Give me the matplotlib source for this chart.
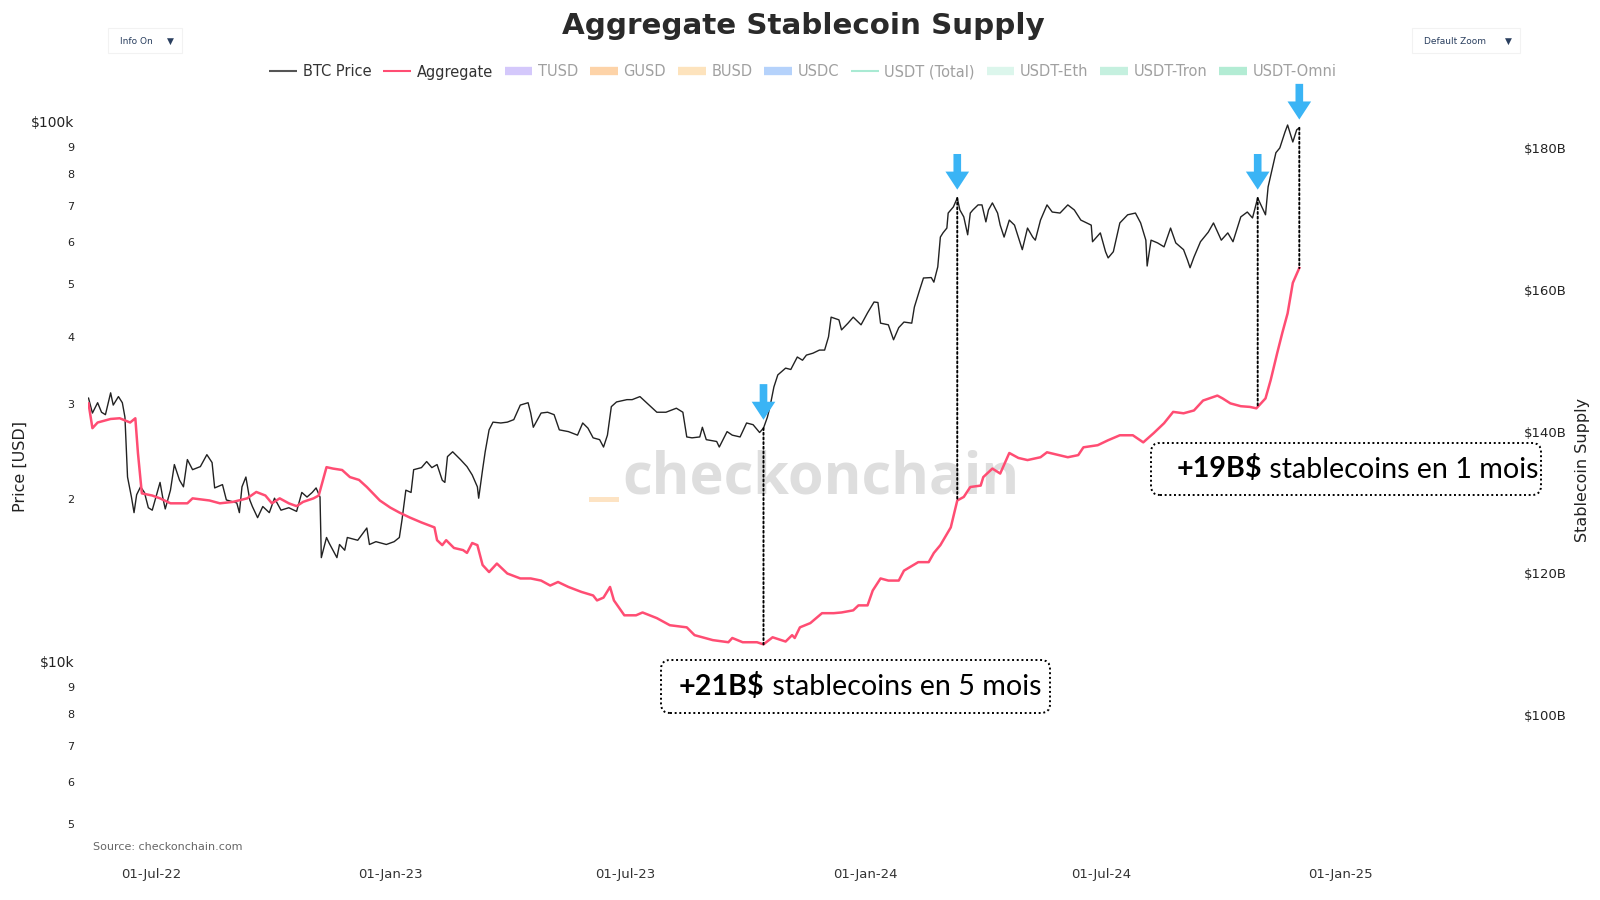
import numpy as np
import pandas as pd
import matplotlib
matplotlib.use('Agg')
import matplotlib.pyplot as plt
import matplotlib.dates as mdates
import matplotlib.transforms as mtransforms
from matplotlib.ticker import FixedLocator, FuncFormatter
from matplotlib.patches import FancyBboxPatch, ConnectionPatch, Rectangle
from matplotlib.lines import Line2D

# BTC price (USD)
btc_dates = [
    '2022-05-14', '2022-05-17', '2022-05-21', '2022-05-24', '2022-05-27', '2022-05-31', '2022-06-02', '2022-06-06',
    '2022-06-09', '2022-06-11', '2022-06-13', '2022-06-16', '2022-06-18', '2022-06-20', '2022-06-23', '2022-06-26',
    '2022-06-29', '2022-07-02', '2022-07-08', '2022-07-10', '2022-07-12', '2022-07-16', '2022-07-19', '2022-07-23',
    '2022-07-26', '2022-07-29', '2022-08-02', '2022-08-08', '2022-08-13', '2022-08-17', '2022-08-19', '2022-08-25',
    '2022-08-28', '2022-09-05', '2022-09-07', '2022-09-09', '2022-09-12', '2022-09-15', '2022-09-17', '2022-09-21',
    '2022-09-25', '2022-09-30', '2022-10-04', '2022-10-09', '2022-10-15', '2022-10-21', '2022-10-25', '2022-10-29',
    '2022-11-02', '2022-11-05', '2022-11-08', '2022-11-09', '2022-11-13', '2022-11-15', '2022-11-21', '2022-11-23',
    '2022-11-27', '2022-11-29', '2022-12-07', '2022-12-14', '2022-12-16', '2022-12-21', '2022-12-29', '2023-01-04',
    '2023-01-08', '2023-01-10', '2023-01-13', '2023-01-17', '2023-01-19', '2023-01-25', '2023-01-29', '2023-02-02',
    '2023-02-06', '2023-02-10', '2023-02-12', '2023-02-14', '2023-02-18', '2023-02-24', '2023-03-01', '2023-03-05',
    '2023-03-09', '2023-03-10', '2023-03-13', '2023-03-15', '2023-03-18', '2023-03-21', '2023-03-27', '2023-04-01',
    '2023-04-06', '2023-04-11', '2023-04-17', '2023-04-19', '2023-04-21', '2023-04-27', '2023-05-02', '2023-05-07',
    '2023-05-11', '2023-05-18', '2023-05-25', '2023-05-29', '2023-06-02', '2023-06-06', '2023-06-11', '2023-06-14',
    '2023-06-17', '2023-06-20', '2023-06-24', '2023-07-02', '2023-07-06', '2023-07-12', '2023-07-19', '2023-07-25',
    '2023-08-01', '2023-08-09', '2023-08-14', '2023-08-17', '2023-08-21', '2023-08-27', '2023-08-29', '2023-09-01',
    '2023-09-09', '2023-09-11', '2023-09-17', '2023-09-21', '2023-09-27', '2023-10-02', '2023-10-07', '2023-10-12',
    '2023-10-15', '2023-10-18', '2023-10-20', '2023-10-23', '2023-10-26', '2023-11-01', '2023-11-05', '2023-11-10',
    '2023-11-14', '2023-11-17', '2023-11-22', '2023-11-27', '2023-12-01', '2023-12-04', '2023-12-06', '2023-12-12',
    '2023-12-14', '2023-12-19', '2023-12-23', '2023-12-29', '2024-01-03', '2024-01-08', '2024-01-11', '2024-01-13',
    '2024-01-19', '2024-01-23', '2024-01-27', '2024-01-31', '2024-02-06', '2024-02-08', '2024-02-12', '2024-02-15',
    '2024-02-21', '2024-02-23', '2024-02-26', '2024-02-28', '2024-03-01', '2024-03-04', '2024-03-05', '2024-03-09',
    '2024-03-12', '2024-03-14', '2024-03-17', '2024-03-20', '2024-03-22', '2024-03-24', '2024-03-28', '2024-03-31',
    '2024-04-03', '2024-04-05', '2024-04-08', '2024-04-12', '2024-04-14', '2024-04-17', '2024-04-21', '2024-04-25',
    '2024-05-01', '2024-05-05', '2024-05-09', '2024-05-11', '2024-05-15', '2024-05-20', '2024-05-24', '2024-05-30',
    '2024-06-05', '2024-06-10', '2024-06-15', '2024-06-23', '2024-06-24', '2024-06-30', '2024-07-04', '2024-07-06',
    '2024-07-10', '2024-07-15', '2024-07-21', '2024-07-27', '2024-07-31', '2024-08-04', '2024-08-05', '2024-08-08',
    '2024-08-13', '2024-08-18', '2024-08-23', '2024-08-27', '2024-09-02', '2024-09-05', '2024-09-07', '2024-09-10',
    '2024-09-15', '2024-09-21', '2024-09-25', '2024-10-01', '2024-10-06', '2024-10-10', '2024-10-16', '2024-10-21',
    '2024-10-25', '2024-10-29', '2024-11-04', '2024-11-06', '2024-11-12', '2024-11-15', '2024-11-19', '2024-11-21',
    '2024-11-25', '2024-11-28', '2024-11-30',
]
btc_price = [
    30800, 28900, 30200, 29000, 28700, 31500, 29900, 31000,
    30200, 28400, 22000, 20200, 18900, 20400, 21100, 20600,
    19300, 19100, 21500, 20200, 19200, 20800, 23200, 21700,
    21100, 23700, 22700, 23000, 24200, 23400, 21000, 21300,
    19950, 19700, 18900, 21100, 22000, 19950, 19400, 18500,
    19400, 18900, 20100, 19100, 19300, 19000, 20600, 20200,
    20600, 21000, 20200, 15600, 17000, 16600, 15600, 16500,
    16100, 17000, 16800, 17700, 16500, 16700, 16500, 16700,
    17000, 18300, 20800, 20600, 22700, 22900, 23500, 22900,
    23200, 21700, 21500, 24000, 24500, 23700, 23000, 22200,
    21100, 20100, 22700, 24500, 26900, 27800, 27700, 27800,
    28100, 29900, 30200, 28900, 27200, 28900, 29000, 28700,
    26900, 26700, 26300, 27700, 27100, 26000, 25800, 25000,
    26300, 29700, 30300, 30600, 30600, 31000, 29900, 29000,
    29000, 29500, 29000, 26100, 26000, 26100, 27200, 25800,
    25600, 25000, 26700, 26300, 26100, 27700, 27500, 26600,
    27100, 28400, 29700, 32300, 34000, 35000, 34800, 36700,
    36200, 37000, 37300, 37800, 37800, 40000, 43500, 43000,
    41200, 42400, 43500, 42100, 44300, 46400, 46300, 42400,
    42100, 39500, 41600, 42600, 42400, 45400, 48800, 51400,
    51500, 50500, 53900, 61200, 62300, 63600, 67800, 69600,
    72300, 68700, 66700, 61800, 67800, 68700, 70200, 70200,
    65300, 68700, 70800, 67800, 64400, 61200, 65800, 64400,
    58000, 63600, 61200, 60400, 65800, 70200, 68100, 67800,
    70200, 68700, 65800, 64400, 60000, 62300, 57500, 56000,
    57500, 65000, 67300, 67800, 65000, 60400, 54100, 60400,
    59700, 58700, 63600, 59700, 58000, 55500, 53700, 56200,
    60000, 62500, 65000, 60400, 62300, 60000, 66700, 68100,
    66400, 72300, 67300, 75800, 87700, 89500, 95800, 98700,
    91800, 96700, 97500,
]

# Aggregate stablecoin supply (billions USD)
supply_dates = [
    '2022-05-14', '2022-05-17', '2022-05-21', '2022-05-31', '2022-06-07', '2022-06-15', '2022-06-19', '2022-06-21',
    '2022-06-24', '2022-07-02', '2022-07-08', '2022-07-16', '2022-07-29', '2022-08-02', '2022-08-15', '2022-08-23',
    '2022-09-02', '2022-09-13', '2022-09-20', '2022-09-27', '2022-10-02', '2022-10-08', '2022-10-15', '2022-10-21',
    '2022-10-26', '2022-11-03', '2022-11-07', '2022-11-13', '2022-11-18', '2022-11-25', '2022-12-01', '2022-12-08',
    '2022-12-14', '2022-12-24', '2023-01-01', '2023-01-08', '2023-01-16', '2023-01-25', '2023-02-04', '2023-02-06',
    '2023-02-10', '2023-02-13', '2023-02-19', '2023-02-26', '2023-03-01', '2023-03-05', '2023-03-09', '2023-03-13',
    '2023-03-18', '2023-03-24', '2023-04-01', '2023-04-11', '2023-04-19', '2023-04-27', '2023-05-04', '2023-05-10',
    '2023-05-18', '2023-05-28', '2023-06-06', '2023-06-09', '2023-06-14', '2023-06-19', '2023-06-22', '2023-06-30',
    '2023-07-09', '2023-07-14', '2023-07-25', '2023-08-04', '2023-08-17', '2023-08-23', '2023-09-06', '2023-09-18',
    '2023-09-21', '2023-09-29', '2023-10-10', '2023-10-15', '2023-10-22', '2023-11-01', '2023-11-06', '2023-11-08',
    '2023-11-12', '2023-11-20', '2023-11-29', '2023-12-08', '2023-12-14', '2023-12-23', '2023-12-27', '2024-01-03',
    '2024-01-07', '2024-01-13', '2024-01-19', '2024-01-27', '2024-01-31', '2024-02-11', '2024-02-19', '2024-02-23',
    '2024-02-28', '2024-03-07', '2024-03-12', '2024-03-17', '2024-03-22', '2024-03-30', '2024-04-01', '2024-04-08',
    '2024-04-14', '2024-04-21', '2024-04-28', '2024-05-05', '2024-05-15', '2024-05-20', '2024-06-05', '2024-06-13',
    '2024-06-17', '2024-06-28', '2024-07-06', '2024-07-15', '2024-07-25', '2024-08-02', '2024-08-10', '2024-08-18',
    '2024-08-25', '2024-09-02', '2024-09-10', '2024-09-17', '2024-09-28', '2024-10-02', '2024-10-08', '2024-10-16',
    '2024-10-23', '2024-10-28', '2024-11-04', '2024-11-08', '2024-11-13', '2024-11-17', '2024-11-21', '2024-11-25',
    '2024-11-30',
]
supply_bn = [
    144.0, 140.5, 141.3, 141.8, 141.9, 141.3, 141.9, 137.0,
    131.3, 131.0, 130.6, 129.9, 129.9, 130.6, 130.3, 129.9,
    130.1, 130.6, 131.5, 131.0, 129.9, 130.6, 129.9, 129.5,
    130.1, 130.6, 131.0, 135.0, 134.8, 134.6, 133.6, 133.2,
    132.2, 130.3, 129.3, 128.6, 127.9, 127.2, 126.5, 124.7,
    124.0, 124.7, 123.6, 123.3, 122.9, 124.3, 124.0, 121.2,
    120.2, 121.4, 120.0, 119.3, 119.3, 119.0, 118.3, 118.8,
    118.1, 117.4, 116.9, 116.2, 116.6, 118.1, 116.2, 114.1,
    114.1, 114.5, 113.7, 112.7, 112.4, 111.3, 110.6, 110.3,
    110.9, 110.3, 110.3, 110.0, 111.0, 110.4, 111.3, 110.9,
    112.4, 113.0, 114.4, 114.4, 114.5, 114.8, 115.5, 115.5,
    117.6, 119.3, 119.0, 119.0, 120.4, 121.6, 121.6, 122.9,
    124.0, 126.5, 130.3, 130.8, 132.2, 132.4, 133.6, 134.8,
    134.1, 137.0, 136.3, 136.0, 136.4, 137.1, 136.4, 136.7,
    137.8, 138.1, 138.8, 139.5, 139.5, 138.5, 139.8, 141.2,
    142.8, 142.6, 143.0, 144.4, 145.1, 144.7, 144.0, 143.6,
    143.5, 143.3, 144.7, 147.3, 151.1, 154.0, 156.7, 161.0,
    163.1,
]

# dates marked with arrows / dotted connectors
event_dates = ['2023-10-15', '2024-03-12', '2024-10-29', '2024-11-30']

legend_labels = ['BTC Price', 'Aggregate', 'TUSD', 'GUSD', 'BUSD', 'USDC',
                 'USDT (Total)', 'USDT-Eth', 'USDT-Tron', 'USDT-Omni']
legend_colors = ['#555555', '#ff4d73', '#d4c8fb', '#fdd3a8', '#fde3bd', '#b5d2fb',
                 '#a9ead3', '#dcf6ec', '#c5f0df', '#b3ecd4']
legend_widths = [1.5, 1.5, 6, 6, 6, 6, 1.5, 6, 6, 6]

BTC_COLOR = '#222222'
AGG_COLOR = '#ff4d73'
ARROW_COLOR = '#3ab4f5'

W, H = 1600, 900


def fx(px):
    return px / W


def fy(py):
    return 1 - py / H


btc = pd.Series(btc_price, index=pd.to_datetime(btc_dates))
supply = pd.Series(supply_bn, index=pd.to_datetime(supply_dates))

fig = plt.figure(figsize=(16, 9), dpi=100)
ax1 = fig.add_axes([fx(88), fy(840), fx(1510) - fx(88), fy(100) - fy(840)])
ax2 = ax1.twinx()
ax1.patch.set_visible(False)
ax2.patch.set_visible(False)

ax1.plot(btc.index, btc.values, color=BTC_COLOR, lw=1.0)
ax2.plot(supply.index, supply.values, color=AGG_COLOR, lw=1.8)

# axes ranges
x0 = mdates.date2num(pd.Timestamp('2022-07-01'))
ax1.set_xlim(x0 - 48.4, x0 + 1045.0)
ax1.set_yscale('log')
ax1.set_ylim(4680, 109800)
ax2.set_ylim(82.4, 186.8)

for ax in (ax1, ax2):
    for s in ax.spines.values():
        s.set_visible(False)

ax1.xaxis.set_major_locator(mdates.MonthLocator(bymonth=[1, 7]))
ax1.xaxis.set_major_formatter(mdates.DateFormatter('%d-%b-%y'))
ax1.tick_params(axis='x', length=0, pad=20, labelsize=9.5, labelcolor='#333333')

ax1.yaxis.set_major_locator(FixedLocator([1e4, 1e5]))
ax1.yaxis.set_minor_locator(FixedLocator([5e3, 6e3, 7e3, 8e3, 9e3] + [k * 1e4 for k in range(2, 10)]))
ax1.yaxis.set_major_formatter(FuncFormatter(lambda v, p: '$%dk' % round(v / 1000)))
ax1.yaxis.set_minor_formatter(FuncFormatter(lambda v, p: '%d' % round(v / 10 ** np.floor(np.log10(v)))))
ax1.tick_params(axis='y', which='major', length=0, pad=10, labelsize=10, labelcolor='#222222')
ax1.tick_params(axis='y', which='minor', length=0, pad=10, labelsize=8, labelcolor='#222222')

ax2.set_yticks([100, 120, 140, 160, 180])
ax2.yaxis.set_major_formatter(FuncFormatter(lambda v, p: '$%dB' % v))
ax2.tick_params(axis='y', length=0, pad=10, labelsize=9.5, labelcolor='#222222')
ax2.set_ylabel('Stablecoin Supply', fontsize=11.5, color='#222222', labelpad=6)

fig.text(fx(20), fy(466), 'Price [USD]', rotation=90, ha='center', va='center',
         fontsize=11.5, color='#222222')

# watermark, behind the curves
fig.text(fx(622), fy(493), 'checkonchain', family='Open Sans', fontweight='bold',
         fontsize=41.5, color='#dedede', ha='left', va='baseline', zorder=-1)
fig.add_artist(Rectangle((fx(589), fy(502)), fx(619) - fx(589), fy(497) - fy(502),
                         transform=fig.transFigure, facecolor='#fde3c3', edgecolor='none', zorder=-1))

# dotted connectors between price and supply
ev = pd.to_datetime(event_dates)
ev_num = mdates.date2num(ev)
btc_ev = np.interp(ev_num, mdates.date2num(btc.index), btc.values)
sup_ev = np.interp(ev_num, mdates.date2num(supply.index), supply.values)
for xd, pb, ps in zip(ev_num, btc_ev, sup_ev):
    con = ConnectionPatch(xyA=(xd, pb), coordsA=ax1.transData,
                          xyB=(xd, ps), coordsB=ax2.transData,
                          linestyle=(0, (1, 1.4)), lw=1.4, color='black', zorder=6)
    fig.add_artist(con)
    ax1.annotate('', xy=(xd, pb), xycoords='data', xytext=(0, 44), textcoords='offset pixels',
                 arrowprops=dict(arrowstyle='simple,head_width=17,head_length=13,tail_width=5.5',
                                 mutation_scale=1, color=ARROW_COLOR, shrinkA=0, shrinkB=6, lw=0))

# annotation boxes
ident = mtransforms.IdentityTransform()


def note_box(left, top, right, bottom, tx, bold, rest):
    box = FancyBboxPatch((left, H - bottom), right - left, bottom - top,
                         boxstyle='round,pad=0,rounding_size=9', transform=ident,
                         fill=False, ec='black', lw=1.4, linestyle=(0, (1, 1.4)))
    fig.add_artist(box)
    cy = (top + bottom) / 2
    t1 = fig.text(fx(tx), fy(cy), bold, family='Lato', fontweight='bold', fontsize=20.6,
                  ha='left', va='center', color='black')
    ax2.annotate(rest, xy=(1, 0), xycoords=t1, ha='left', va='bottom', family='Lato',
                 fontsize=20.6, color='black', annotation_clip=False)


note_box(661, 660, 1050, 713, 679, '+21B$', ' stablecoins en 5 mois')
note_box(1151, 443, 1541, 495, 1177, '+19B$', ' stablecoins en 1 mois')

# title and legend
fig.text(fx(803), fy(26), 'Aggregate Stablecoin Supply', ha='center', va='center',
         fontsize=21.2, fontweight='bold', color='#2a2a2a')

handles = [Line2D([], [], color=c, lw=w, solid_capstyle='butt')
           for c, w in zip(legend_colors, legend_widths)]
leg = fig.legend(handles, legend_labels, loc='center', bbox_to_anchor=(fx(803), fy(72)),
                 ncol=10, frameon=False, fontsize=10.5, handlelength=1.9,
                 handletextpad=0.4, columnspacing=0.8)
for i, t in enumerate(leg.get_texts()):
    t.set_color('#333333' if i < 2 else '#a0a0a0')

# dropdown widgets
for (bx0, bx1), label in (((108, 182), 'Info On'), ((1412, 1520), 'Default Zoom')):
    fig.add_artist(Rectangle((fx(bx0), fy(53)), fx(bx1) - fx(bx0), fy(28) - fy(53),
                             transform=fig.transFigure, fill=False, ec='#f2f2f2', lw=0.8))
    fig.text(fx(bx0 + 12), fy(41), label, fontsize=6.5, color='#2a3f5f', va='center', ha='left')
    fig.text(fx(bx1 - 8), fy(41), '\u25bc', fontsize=6.5, color='#2a3f5f', va='center', ha='right')

fig.text(fx(93), fy(847), 'Source: checkonchain.com', fontsize=8, color='#666666', va='center')

fig.savefig('out.png', dpi=100, facecolor='white')
